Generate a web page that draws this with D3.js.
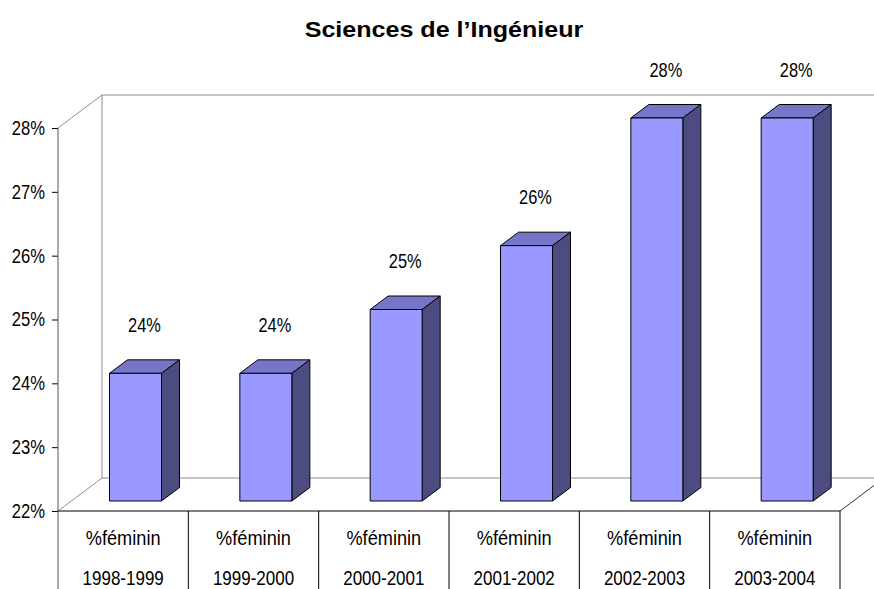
<!DOCTYPE html>
<html>
<head>
<meta charset="utf-8">
<script src="https://cdn.jsdelivr.net/npm/d3@7"></script>
<style>
  body { margin: 0; background: #fff; }
  text { font-family: "Liberation Sans", Arial, sans-serif; }
</style>
</head>
<body>
<div class="chart"></div>
<script>
const title = 'Sciences de l\u2019Ingénieur';
const periods = ['1998-1999', '1999-2000', '2000-2001', '2001-2002', '2002-2003', '2003-2004'];
const seriesName = '%féminin';
const values = [24, 24, 25, 26, 28, 28];
const tickValues = [22, 23, 24, 25, 26, 27, 28];

const W = 874, H = 589;
const plot = {left: 58, right: 840, top: 128, bottom: 511};
const depth = {dx: 44, dy: -33};      // back wall offset
const barFront = {dx: 12, dy: -10};   // where the bar front sits inside the depth
const barDepth = {dx: 18, dy: -13.5};
const barInset = 39.5, barWidth = 52;
const fontSize = '20px';

const svg = d3.select('.chart').append('svg')
    .attr('width', W)
    .attr('height', H);

const x = d3.scaleBand()
    .domain(periods)
    .range([plot.left, plot.right]);

const y = d3.scaleLinear()
    .domain([22, 28])
    .range([plot.bottom, plot.top]);

// no narrow font installed, so squeeze Liberation Sans horizontally
const placeNarrow = (sel, px, py, k) => sel
    .attr('transform', d => `translate(${px(d)},${py(d)}) scale(${k},1)`)
    .attr('text-anchor', 'middle')
    .style('font-size', fontSize);

// title
svg.append('text')
    .attr('transform', 'translate(444,37) scale(1.14,1)')
    .attr('text-anchor', 'middle')
    .style('font-weight', 'bold')
    .style('font-size', '22px')
    .text(title);

// walls
const walls = svg.append('g')
    .attr('fill', 'none')
    .attr('stroke', '#8c8c8c')
    .attr('stroke-width', 1);
const bx = plot.left + depth.dx;
walls.append('line')
    .attr('x1', bx).attr('y1', plot.top + depth.dy)
    .attr('x2', bx).attr('y2', plot.bottom + depth.dy);
walls.append('line')
    .attr('x1', bx).attr('y1', plot.top + depth.dy)
    .attr('x2', plot.right + depth.dx).attr('y2', plot.top + depth.dy);
walls.append('line')
    .attr('x1', bx).attr('y1', plot.bottom + depth.dy)
    .attr('x2', plot.right + depth.dx).attr('y2', plot.bottom + depth.dy);
walls.append('line')
    .attr('x1', plot.left).attr('y1', plot.top)
    .attr('x2', bx).attr('y2', plot.top + depth.dy);
walls.append('line')
    .attr('x1', plot.left).attr('y1', plot.bottom)
    .attr('x2', bx).attr('y2', plot.bottom + depth.dy);
walls.append('line')
    .attr('stroke', '#333')
    .attr('x1', plot.right).attr('y1', plot.bottom)
    .attr('x2', plot.right + depth.dx).attr('y2', plot.bottom + depth.dy);

// bars
const barData = periods.map((p, i) => ({period: p, value: values[i]}));
const bars = svg.append('g')
    .selectAll('g')
    .data(barData)
    .join('g')
    .attr('stroke', '#000')
    .attr('stroke-width', 1)
    .attr('stroke-linejoin', 'round');

const fx = d => x(d.period) + barInset + barFront.dx;
const base = y(22) + barFront.dy;
const barTop = d => y(d.value) + barFront.dy;

bars.append('path')   // top face
    .attr('fill', '#7676c8')
    .attr('d', d => {
      const x0 = fx(d), y0 = barTop(d);
      return `M${x0},${y0}L${x0 + barDepth.dx},${y0 + barDepth.dy}` +
        `L${x0 + barWidth + barDepth.dx},${y0 + barDepth.dy}L${x0 + barWidth},${y0}Z`;
    });

bars.append('path')   // side face
    .attr('fill', '#4c4c80')
    .attr('d', d => {
      const x0 = fx(d) + barWidth, y0 = barTop(d);
      return `M${x0},${y0}L${x0 + barDepth.dx},${y0 + barDepth.dy}` +
        `L${x0 + barDepth.dx},${base + barDepth.dy}L${x0},${base}Z`;
    });

bars.append('rect')   // front face
    .attr('fill', '#9999ff')
    .attr('x', fx)
    .attr('y', barTop)
    .attr('width', barWidth)
    .attr('height', d => base - barTop(d));

// value labels
svg.append('g')
    .selectAll('text')
    .data(barData)
    .join('text')
    .call(placeNarrow,
      d => fx(d) + (barWidth + barDepth.dx) / 2,
      d => barTop(d) + barDepth.dy - 28,
      0.82)
    .text(d => d3.format('.0f')(d.value) + '%');

// y axis
const tickK = 0.83;
const yAxis = svg.append('g')
    .attr('transform', `translate(${plot.left},0)`)
    .call(d3.axisLeft(y)
      .tickValues(tickValues)
      .tickSize(6)
      .tickPadding(6)
      .tickFormat(d => d + '%'));
yAxis.select('.domain').remove();
yAxis.selectAll('text')
    .style('font-size', fontSize)
    .style('font-family', '"Liberation Sans", Arial, sans-serif')
    .attr('fill', '#000')
    .attr('x', -13 / tickK)
    .attr('transform', `scale(${tickK},1)`);
yAxis.selectAll('line').attr('stroke', '#000');

svg.append('line')
    .attr('stroke', '#555')
    .attr('x1', plot.left).attr('y1', plot.top)
    .attr('x2', plot.left).attr('y2', H);

// category table
const table = svg.append('g');
table.append('line')
    .attr('stroke', '#000')
    .attr('x1', plot.left).attr('y1', plot.bottom)
    .attr('x2', plot.right).attr('y2', plot.bottom);
table.selectAll('line.sep')
    .data(periods.slice(1).concat(['end']))
    .join('line')
    .attr('class', 'sep')
    .attr('stroke', '#000')
    .attr('x1', d => d === 'end' ? plot.right : x(d))
    .attr('x2', d => d === 'end' ? plot.right : x(d))
    .attr('y1', plot.bottom)
    .attr('y2', H);
table.selectAll('text.name')
    .data(periods)
    .join('text')
    .attr('class', 'name')
    .call(placeNarrow, d => x(d) + x.bandwidth() / 2, () => 545, 0.91)
    .text(seriesName);
table.selectAll('text.period')
    .data(periods)
    .join('text')
    .attr('class', 'period')
    .call(placeNarrow, d => x(d) + x.bandwidth() / 2, () => 584.5, 0.85)
    .text(d => d);
</script>
</body>
</html>
